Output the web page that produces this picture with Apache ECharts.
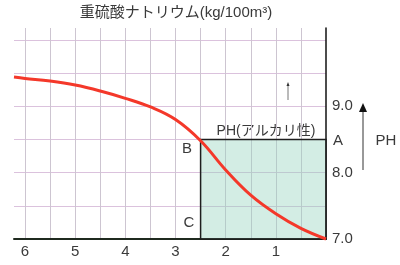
<!DOCTYPE html>
<html><head><meta charset="utf-8">
<script src="https://cdn.jsdelivr.net/npm/echarts@6/dist/echarts.min.js"></script>
<style>html,body{margin:0;padding:0;background:#fff;}#c{width:400px;height:265px;}</style>
</head><body><div id="c"></div>
<script>
const titleText = '重硫酸ナトリウム(kg/100m³)';
const xVals = [0, 0.5, 1.0, 1.5, 2.0, 2.5, 3.0, 3.5, 4.0, 4.5, 5.0, 5.5, 6.0, 6.22];
const phVals = [7.0, 7.16, 7.38, 7.66, 8.04, 8.48, 8.8, 8.99, 9.12, 9.23, 9.32, 9.38, 9.42, 9.44];
const xTickLabels = ['1', '2', '3', '4', '5', '6'];
const yTickLabels = ['7.0', '8.0', '9.0'];
const boxX = [0, 2.5];
const boxY = [7.0, 8.5];
const pointLabels = ['A', 'B', 'C'];
const alkaliText = 'PH(アルカリ性)';
const axisName = 'PH';

const chart = echarts.init(document.getElementById('c'), null, {renderer: 'canvas'});
const font = 'Liberation Sans, Noto Sans CJK JP, sans-serif';
const txt = '#3a3a3a';
chart.setOption({
  animation: false,
  grid: {left: 14, right: 74, top: 28, bottom: 26},
  xAxis: {
    type: 'value', inverse: true, min: 0, max: 6.22, interval: 0.5,
    axisLine: {show: true, lineStyle: {color: '#1f2a1f', width: 2}},
    axisTick: {show: false},
    axisLabel: {
      color: txt, fontSize: 15, fontFamily: font, margin: 5, showMaxLabel: false, showMinLabel: false,
      formatter: v => (Math.abs(v - Math.round(v)) < 1e-6 && xTickLabels.includes(String(Math.round(v)))) ? String(Math.round(v)) : ''
    },
    splitLine: {show: true, showMinLine: false, showMaxLine: false, lineStyle: {color: '#cdc5d1', width: 1}}
  },
  yAxis: {
    type: 'value', position: 'right', min: 7, max: 10.18, interval: 0.5,
    axisLine: {show: true, lineStyle: {color: '#111', width: 1.5}},
    axisTick: {show: false},
    axisLabel: {
      color: txt, fontSize: 15, fontFamily: font, margin: 6, showMaxLabel: false,
      formatter: v => { const s = v.toFixed(1); return yTickLabels.includes(s) ? s : ''; }
    },
    splitLine: {show: true, showMinLine: false, showMaxLine: false, lineStyle: {color: '#dbc2dd', width: 1}}
  },
  series: [
    {
      type: 'line', data: [], z: 1,
      markArea: {
        silent: true,
        itemStyle: {color: 'rgba(150,212,190,0.42)', borderColor: '#1e1e1e', borderWidth: 1.5},
        data: [[{coord: [boxX[0], boxY[0]]}, {coord: [boxX[1], boxY[1]]}]]
      }
    },
    {
      type: 'line', z: 5, smooth: 0.4, symbol: 'none', clip: false,
      data: xVals.map((x, i) => [x, phVals[i]]),
      lineStyle: {color: '#f4382a', width: 3}
    }
  ],
  graphic: [
    {type: 'text', style: {text: titleText, x: 176, y: 13, align: 'center', verticalAlign: 'middle', fill: txt, font: '15px ' + font}},
    {type: 'text', style: {text: alkaliText, x: 266, y: 131, align: 'center', verticalAlign: 'middle', fill: txt, font: '14px ' + font}},
    {type: 'text', style: {text: pointLabels[0], x: 338, y: 141, align: 'center', verticalAlign: 'middle', fill: txt, font: '15px ' + font}},
    {type: 'text', style: {text: pointLabels[1], x: 187, y: 149, align: 'center', verticalAlign: 'middle', fill: txt, font: '15px ' + font}},
    {type: 'text', style: {text: pointLabels[2], x: 189, y: 223, align: 'center', verticalAlign: 'middle', fill: txt, font: '15px ' + font}},
    {type: 'text', style: {text: axisName, x: 386, y: 141, align: 'center', verticalAlign: 'middle', fill: txt, font: '15px ' + font}},
    {type: 'line', shape: {x1: 363, y1: 170, x2: 363, y2: 110}, style: {stroke: '#333', lineWidth: 1}},
    {type: 'polygon', shape: {points: [[363, 103], [359, 112], [367, 112]]}, style: {fill: '#111'}},
    {type: 'line', shape: {x1: 288, y1: 100, x2: 288, y2: 85}, style: {stroke: '#777', lineWidth: 1}},
    {type: 'polygon', shape: {points: [[288, 82], [286.5, 86], [289.5, 86]]}, style: {fill: '#333'}}
  ]
});
</script></body></html>
